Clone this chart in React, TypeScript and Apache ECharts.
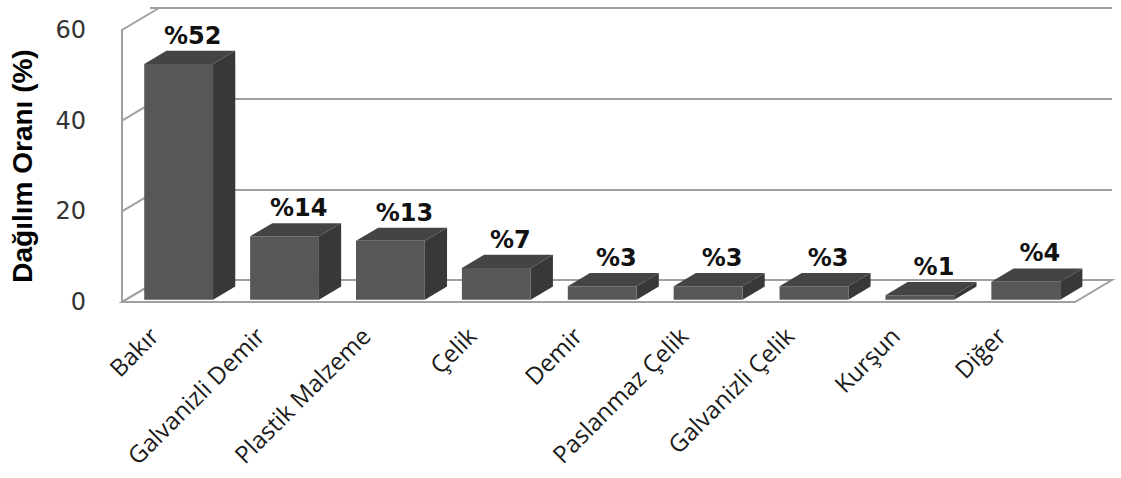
import React, { useEffect, useRef } from "react";
import * as echarts from "echarts";

const categories = [
  "Bakır",
  "Galvanizli Demir",
  "Plastik Malzeme",
  "Çelik",
  "Demir",
  "Paslanmaz Çelik",
  "Galvanizli Çelik",
  "Kurşun",
  "Diğer",
];
const values = [52, 14, 13, 7, 3, 3, 3, 1, 4];
const yTicks = [0, 20, 40, 60];
const yTitle = "Dağılım Oranı (%)";

// 3D depth offset of the back wall (px)
const DX = 37;
const DY = -22;
const BAR_FRONT = 0.1;
const BAR_BACK = 0.7;
const GRID_COLOR = "#a0a0a0";

export default function App() {
  const ref = useRef<HTMLDivElement>(null);
  useEffect(() => {
    if (!ref.current) return;
    const chart = echarts.init(ref.current, null, { renderer: "svg" });
    const gl = 113, gr = 46, gt = 30, gb = 176;
    const option: any = {
      animation: false,
      backgroundColor: "#ffffff",
      grid: [
        { left: gl, right: gr, top: gt, bottom: gb },
        { left: gl + DX, right: gr - DX, top: gt + DY, bottom: gb - DY },
      ],
      xAxis: [
        {
          gridIndex: 0,
          type: "category",
          data: categories,
          axisLine: { show: false },
          axisTick: { show: false },
          axisLabel: {
            rotate: 45,
            margin: 8,
            interval: 0,
            padding: [0, 30, 0, 0],
            fontFamily: "Open Sans",
            fontSize: 24,
            color: "#1a1a1a",
          },
        },
        { gridIndex: 1, type: "category", data: categories, show: false },
      ],
      yAxis: [
        {
          gridIndex: 0,
          type: "value",
          min: 0,
          max: 60,
          interval: 20,
          axisLine: { show: true, lineStyle: { color: GRID_COLOR, width: 2 } },
          axisTick: { show: false },
          splitLine: { show: false },
          axisLabel: {
            margin: 36,
            fontFamily: "DejaVu Sans",
            fontSize: 24,
            color: "#333333",
          },
          name: yTitle,
          nameLocation: "middle",
          nameGap: 86,
          nameRotate: 90,
          nameTextStyle: {
            fontFamily: "Liberation Sans",
            fontWeight: "bold",
            fontSize: 28,
            color: "#000000",
          },
        },
        {
          gridIndex: 1,
          type: "value",
          min: 0,
          max: 60,
          interval: 20,
          axisLine: { show: false },
          axisTick: { show: false },
          axisLabel: { show: false },
          splitLine: { show: true, lineStyle: { color: GRID_COLOR, width: 2 } },
        },
      ],
      series: [
        {
          type: "custom",
          xAxisIndex: 0,
          yAxisIndex: 0,
          z: 1,
          silent: true,
          data: [[0, 0]],
          renderItem: (params: any, api: any) => {
            const cs = params.coordSys;
            const x0 = cs.x;
            const x1 = cs.x + cs.width;
            const yb = api.coord([0, 0])[1];
            const children: any[] = [
              {
                type: "polygon",
                shape: {
                  points: [
                    [x0, yb],
                    [x1, yb],
                    [x1 + DX, yb + DY],
                    [x0 + DX, yb + DY],
                  ],
                },
                style: { fill: "#ffffff", stroke: GRID_COLOR, lineWidth: 2 },
              },
            ];
            yTicks.forEach((v) => {
              const y = api.coord([0, v])[1];
              children.push({
                type: "line",
                shape: { x1: x0, y1: y, x2: x0 + DX, y2: y + DY },
                style: { stroke: GRID_COLOR, lineWidth: 2 },
              });
            });
            return { type: "group", children };
          },
        },
        {
          type: "custom",
          xAxisIndex: 0,
          yAxisIndex: 0,
          z: 2,
          data: values.map((v, i) => [i, v]),
          encode: { x: 0, y: 1 },
          renderItem: (params: any, api: any) => {
            const i = api.value(0);
            const v = api.value(1);
            const base = api.coord([i, 0]);
            const top = api.coord([i, v]);
            const band = api.size([1, 0])[0];
            const w = band * 0.65;
            const fx = DX * BAR_FRONT, fy = DY * BAR_FRONT;
            const bx = DX * BAR_BACK, by = DY * BAR_BACK;
            const L = base[0] - w / 2;
            const R = base[0] + w / 2;
            const y0 = base[1];
            const yt = top[1];
            return {
              type: "group",
              children: [
                {
                  type: "polygon",
                  shape: {
                    points: [
                      [R + fx, yt + fy],
                      [R + bx, yt + by],
                      [R + bx, y0 + by],
                      [R + fx, y0 + fy],
                    ],
                  },
                  style: { fill: "#383838" },
                },
                {
                  type: "polygon",
                  shape: {
                    points: [
                      [L + fx, yt + fy],
                      [R + fx, yt + fy],
                      [R + bx, yt + by],
                      [L + bx, yt + by],
                    ],
                  },
                  style: { fill: "#444444" },
                },
                {
                  type: "rect",
                  shape: { x: L + fx, y: yt + fy, width: w, height: y0 - yt },
                  style: { fill: "#575757" },
                },
                {
                  type: "text",
                  x: base[0] + (fx + bx) / 2 + 3,
                  y: yt + by - 3,
                  style: {
                    text: "%" + v,
                    textAlign: "center",
                    textVerticalAlign: "bottom",
                    fontFamily: "DejaVu Sans",
                    fontWeight: "bold",
                    fontSize: 24,
                    fill: "#111111",
                  },
                },
              ],
            };
          },
        },
      ],
    };
    chart.setOption(option);
    return () => chart.dispose();
  }, []);
  return (
    <div
      ref={ref}
      style={{ position: "fixed", left: 0, top: 0, width: 1121, height: 478, background: "#fff" }}
    />
  );
}
